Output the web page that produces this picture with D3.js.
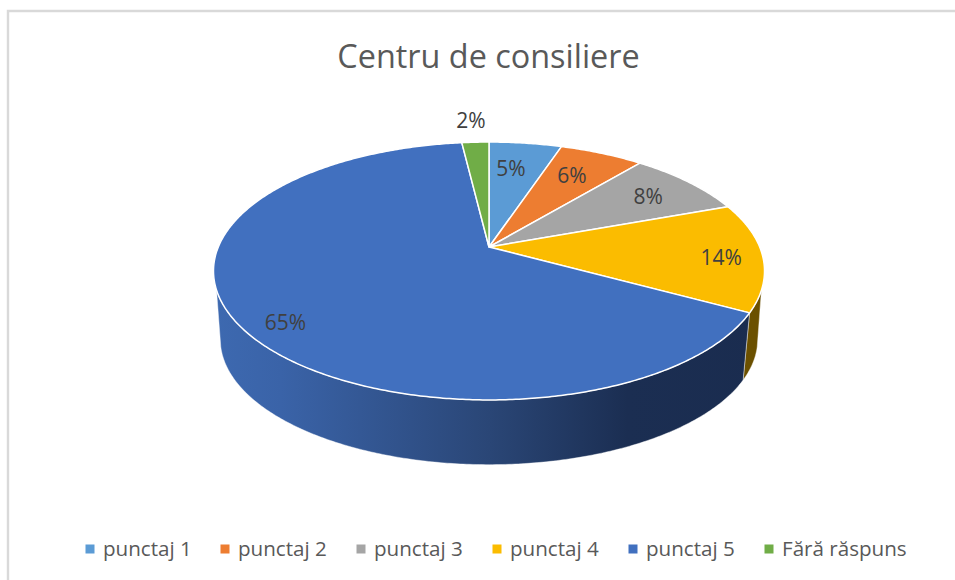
<!DOCTYPE html>
<html><head><meta charset="utf-8">
<style>html,body{margin:0;padding:0;background:#fff}svg{display:block}</style>
<script src="https://cdn.jsdelivr.net/npm/d3@7"></script>
</head><body><svg id="c" width="955" height="580"></svg>
<script>
const categories = ["punctaj 1","punctaj 2","punctaj 3","punctaj 4","punctaj 5","Fără răspuns"];
const values = [5.1,5.9,8.4,13.6,65.1,1.9];
const colors = ["#5B9BD5","#ED7D31","#A5A5A5","#FBBC00","#4170BF","#70AD47"];
const titleText = "Centru de consiliere";
// placement of each percentage label: share of the pie radius and degrees off the slice's middle
const labelRadius = [0.718,0.726,0.77,0.848,0.868,1.249];
const labelAngleShift = [-1.8,-0.8,0.9,1.6,-4.8,-0.35];
const legendMarkerX = [90,225,361,497,633,769];

(function(){
const svg = d3.select("#c");
const W=955,H=580;
svg.append("rect").attr("width",W).attr("height",H).attr("fill","#fff");
svg.append("path").attr("d","M8 580V11H955").attr("fill","none").attr("stroke","#d9d9d9").attr("stroke-width",2.4);

const pieGen = d3.pie().sort(null).value(d=>d);
const arcs = pieGen(values);
const total = d3.sum(values);

// perspective projection of the tilted disc
function projector(cx,cy,A,B,a){
  const sx=d3.scaleLinear().domain([0,1]).range([cx,cx+A]);
  const sy=d3.scaleLinear().domain([0,1]).range([cy,cy+B]);
  return (theta,r=1)=>{
    const u=r*Math.sin(theta), v=-r*Math.cos(theta), w=1-a*v;
    return [sx(u/w),sy(v/w)];
  };
}
const topDisc = projector(489,247,270.7,124.5,0.186);
const botDisc = projector(489,316,264,121,0.186);

const line=d3.line();
const sample=(a0,a1,fn)=>{
  const n=Math.max(2,Math.ceil(Math.abs(a1-a0)/0.01));
  return d3.range(n+1).map(i=>fn(a0+(a1-a0)*i/n));
};
const deg=Math.PI/180;
const wallMin=109*deg, wallMax=251*deg;
const botMin=104*deg, botMax=256*deg;

const defs=svg.append("defs");
const wallColors=[null,null,null,{stops:[["0","#6b5000"],["1","#6b5000"]]},{stops:[["0","#3d69b0"],["0.12","#3a63a8"],["0.5","#2a4676"],["0.75","#1b2e52"],["1","#1a2c4f"]]},null];
const g=svg.append("g");
arcs.forEach((d,i)=>{
  const a0=Math.max(d.startAngle,wallMin), a1=Math.min(d.endAngle,wallMax);
  if(a1<=a0) return;
  const b0=d.startAngle<wallMin?botMin:d.startAngle, b1=d.endAngle>wallMax?botMax:d.endAngle;
  const id="w"+i;
  const gr=defs.append("linearGradient").attr("id",id).attr("gradientUnits","userSpaceOnUse")
    .attr("x1",215).attr("x2",765).attr("y1",0).attr("y2",0);
  (wallColors[i]||{stops:[["0",d3.color(colors[i]).darker(1.5)],["1",d3.color(colors[i]).darker(1.5)]]}).stops
    .forEach(s=>gr.append("stop").attr("offset",s[0]).attr("stop-color",s[1]));
  const pts=sample(a0,a1,topDisc).concat(sample(b1,b0,botDisc));
  g.append("path").attr("d",line(pts)+"Z").attr("fill","url(#"+id+")")
   .attr("stroke","#fff").attr("stroke-width",0.6).attr("stroke-opacity",0.7);
});
arcs.forEach((d,i)=>{
  const pts=[topDisc(0,0)].concat(sample(d.startAngle,d.endAngle,topDisc));
  g.append("path").attr("d",line(pts)+"Z").attr("fill",colors[i])
   .attr("stroke","#fff").attr("stroke-width",1.5).attr("stroke-linejoin","round");
});

const font='"Open Sans","Noto Sans",sans-serif';
svg.append("text").attr("x",488.5).attr("y",68).attr("text-anchor","middle")
  .attr("font-family",font).attr("font-size",32.4).attr("fill","#595959").text(titleText);

arcs.forEach((d,i)=>{
  const p=topDisc((d.startAngle+d.endAngle)/2+labelAngleShift[i]*deg,labelRadius[i]);
  svg.append("text").attr("x",p[0]).attr("y",p[1]).attr("dy","0.35em").attr("text-anchor","middle")
    .attr("font-family",font).attr("font-size",21).attr("fill","#404040")
    .text(d3.format(".0f")(d.value/total*100)+"%");
});

categories.forEach((c,i)=>{
  const x=legendMarkerX[i];
  svg.append("rect").attr("x",x-4.5).attr("y",544.5).attr("width",9).attr("height",9).attr("fill",colors[i]);
  svg.append("text").attr("x",x+13).attr("y",556).attr("font-family",font).attr("font-size",20.6).attr("fill","#595959").text(c);
});
})();
</script></body></html>
